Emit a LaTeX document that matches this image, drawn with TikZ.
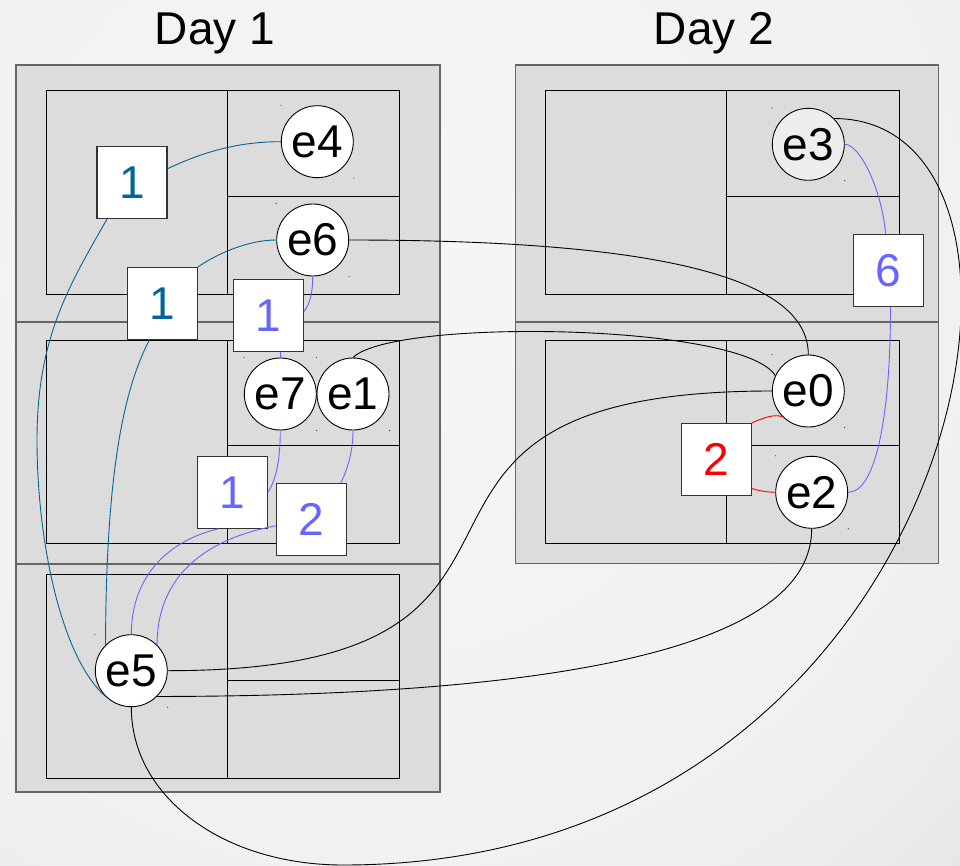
\documentclass[tikz,border=0pt]{standalone}
\usepackage{fontspec}
\setmainfont{Liberation Sans}
\definecolor{dkblue}{HTML}{006699}
\definecolor{ltblue}{HTML}{6666FF}
\definecolor{boxfill}{HTML}{DCDCDC}
\definecolor{boxedge}{HTML}{666666}
\definecolor{sqedge}{HTML}{333333}
\definecolor{bgA}{HTML}{F6F6F6}
\definecolor{bgM}{HTML}{F0F0F0}
\definecolor{bgB}{HTML}{E3E3E3}
\definecolor{greyfill}{HTML}{EEEEEE}
\pgfdeclareradialshading{bgshade}{\pgfpoint{0bp}{0bp}}{color(0bp)=(bgA); color(18bp)=(bgM); color(25bp)=(bgB); color(50bp)=(bgB)}
\tikzset{
  band/.style={fill=boxfill, draw=boxedge, line width=1.4pt},
  inner/.style={fill=boxfill, draw=black, line width=0.9pt},
  ev/.style={circle, draw=black, fill=white, line width=0.9pt, minimum size=72pt, inner sep=0pt, font=\fontsize{46}{50}\selectfont},
  cnt/.style={rectangle, draw=sqedge, fill=white, line width=1.1pt, minimum width=70pt, minimum height=72pt, inner sep=0pt, font=\fontsize{46}{50}\selectfont},
  title/.style={anchor=base, inner sep=0pt, font=\fontsize{46}{50}\selectfont},
  wire/.style={line width=0.9pt},
  tinydot/.style={fill=black!80}
}
\begin{document}
\begin{tikzpicture}[x=1pt,y=-1pt]
\useasboundingbox (0,0) rectangle (960,866);
\clip (0,0) rectangle (960,866);
\shade[shading=bgshade] (-520,-620) rectangle (1280,1180);

% titles
\node[title] (t1) at (215,45) {Day 1};
\node[title] (t2) at (714,45) {Day 2};

% Day 1 bands
\draw[band] (16,65) rectangle (440,322);
\draw[band] (16,322) rectangle (440,564);
\draw[band] (16,564) rectangle (440,792);
% Day 1 inner
\draw[inner] (46.3,90.3) rectangle (227.3,294.3);
\draw[inner] (227.3,90.3) rectangle (399.7,196.3);
\draw[inner] (227.3,196.3) rectangle (399.7,294.3);
\draw[inner] (46.3,340) rectangle (227.3,543.7);
\draw[inner] (227.3,340) rectangle (399.7,445.7);
\draw[inner] (227.3,445.7) rectangle (399.7,543.7);
\draw[inner] (46.3,574.3) rectangle (227.3,778.3);
\draw[inner] (227.3,574.3) rectangle (399.7,680);
\draw[inner] (227.3,680) rectangle (399.7,778.3);
% Day 2 bands
\draw[band] (515.3,65) rectangle (938.7,322);
\draw[band] (515.3,322) rectangle (938.7,563.7);
\draw[inner] (545.3,90.3) rectangle (726.7,294.3);
\draw[inner] (726.7,90.3) rectangle (899,196.3);
\draw[inner] (726.7,196.3) rectangle (899,294.3);
\draw[inner] (545.3,340) rectangle (726.7,543.7);
\draw[inner] (726.7,340) rectangle (899,445.7);
\draw[inner] (726.7,445.7) rectangle (899,543.7);

% events
\node[ev] (e4) at (317.3,141.7) {e4};
\node[ev] (e6) at (312.7,240) {e6};
\node[ev] (e7) at (280.3,394) {e7};
\node[ev] (e1) at (353,394) {e1};
\node[ev] (e5) at (131.3,670.7) {e5};
\node[ev, fill=greyfill] (e3) at (808.3,144.3) {e3};
\node[ev] (e0) at (808.3,391) {e0};
\node[ev] (e2) at (811.7,492.3) {e2};

% counters
\node[cnt, text=dkblue] (s1a) at (132,182.7) {1};
\node[cnt, text=dkblue] (s1b) at (162.3,303.5) {1};
\node[cnt, text=ltblue] (s1c) at (268.2,315.8) {1};
\node[cnt, text=ltblue] (s1d) at (232.3,492.3) {1};
\node[cnt, text=ltblue] (s2a) at (311.7,519.7) {2};
\node[cnt, text=ltblue] (s6) at (888.5,270.2) {6};
\node[cnt, text=red] (s2r) at (716.2,459.5) {2};

% dark blue wires
\draw[wire, dkblue] ([yshift=14pt]s1a.east) .. controls (205,151) and (240,141.7) .. (e4.west);
\draw[wire, dkblue] ([xshift=-25pt]s1a.south) .. controls (67.3,288) and (37,340) .. (37,440) .. controls (37,540) and (60.8,657) .. (e5.south west);
\draw[wire, dkblue] (s1b.north east) .. controls (220,252) and (250,240) .. (e6.west);
\draw[wire, dkblue] ([xshift=-13pt]s1b.south) .. controls (118,400) and (106,500) .. (e5.north west);

% light blue wires
\draw[wire, ltblue] (e6.south) .. controls (312.7,296) and (309,305) .. ([yshift=4pt]s1c.east);
\draw[wire, ltblue] (e7.north) -- (e7.north |- s1c.south);
\draw[wire, ltblue] (e7.south) .. controls (280.3,460) and (276,480) .. (s1d.east);
\draw[wire, ltblue] (e1.south) .. controls (353,455) and (346,472) .. ([xshift=29pt]s2a.north);
\draw[wire, ltblue] ([xshift=-14pt]s1d.south) .. controls (170,540) and (131.3,575) .. (e5.north);
\draw[wire, ltblue] ([yshift=-6pt]s2a.west) .. controls (200,540) and (157,580) .. (e5.north east);
\draw[wire, ltblue] (e3.east) .. controls (860,144.3) and (882,190) .. ([xshift=-3pt]s6.north);
\draw[wire, ltblue] ([xshift=2pt]s6.south) .. controls (890.5,420) and (875,492.3) .. (e2.east);

% red wires
\draw[wire, red] (s2r.north east) .. controls (765,417) and (775,414) .. (e0.south west);
\draw[wire, red] ([yshift=-29pt]s2r.east) .. controls (760,491) and (768,492.3) .. (e2.west);

% black wires
\draw[wire] (e6.east) .. controls (648.7,240) and (808.3,275) .. (e0.north);
\draw[wire] (e1.north) .. controls (393,318) and (743,323) .. (e0.155);
\draw[wire] (e0.west) .. controls (311,391) and (628,670.7) .. (e5.east);
\draw[wire] (e5.south east) .. controls (556.7,696.2) and (811.7,648.3) .. (e2.south);
\draw[wire] (e5.south) .. controls (131.3,796.7) and (223,865) .. (343,865) .. controls (968,865) and (1093.8,118.8) .. (e3.north east);

% tiny corner dots
\foreach \n in {e4,e6,e7,e1,e5,e3,e0,e2}{
  \fill[tinydot] (\n.north -| \n.west) circle (0.6);
  \fill[tinydot] (\n.south -| \n.east) circle (0.6);
}
\end{tikzpicture}
\end{document}
